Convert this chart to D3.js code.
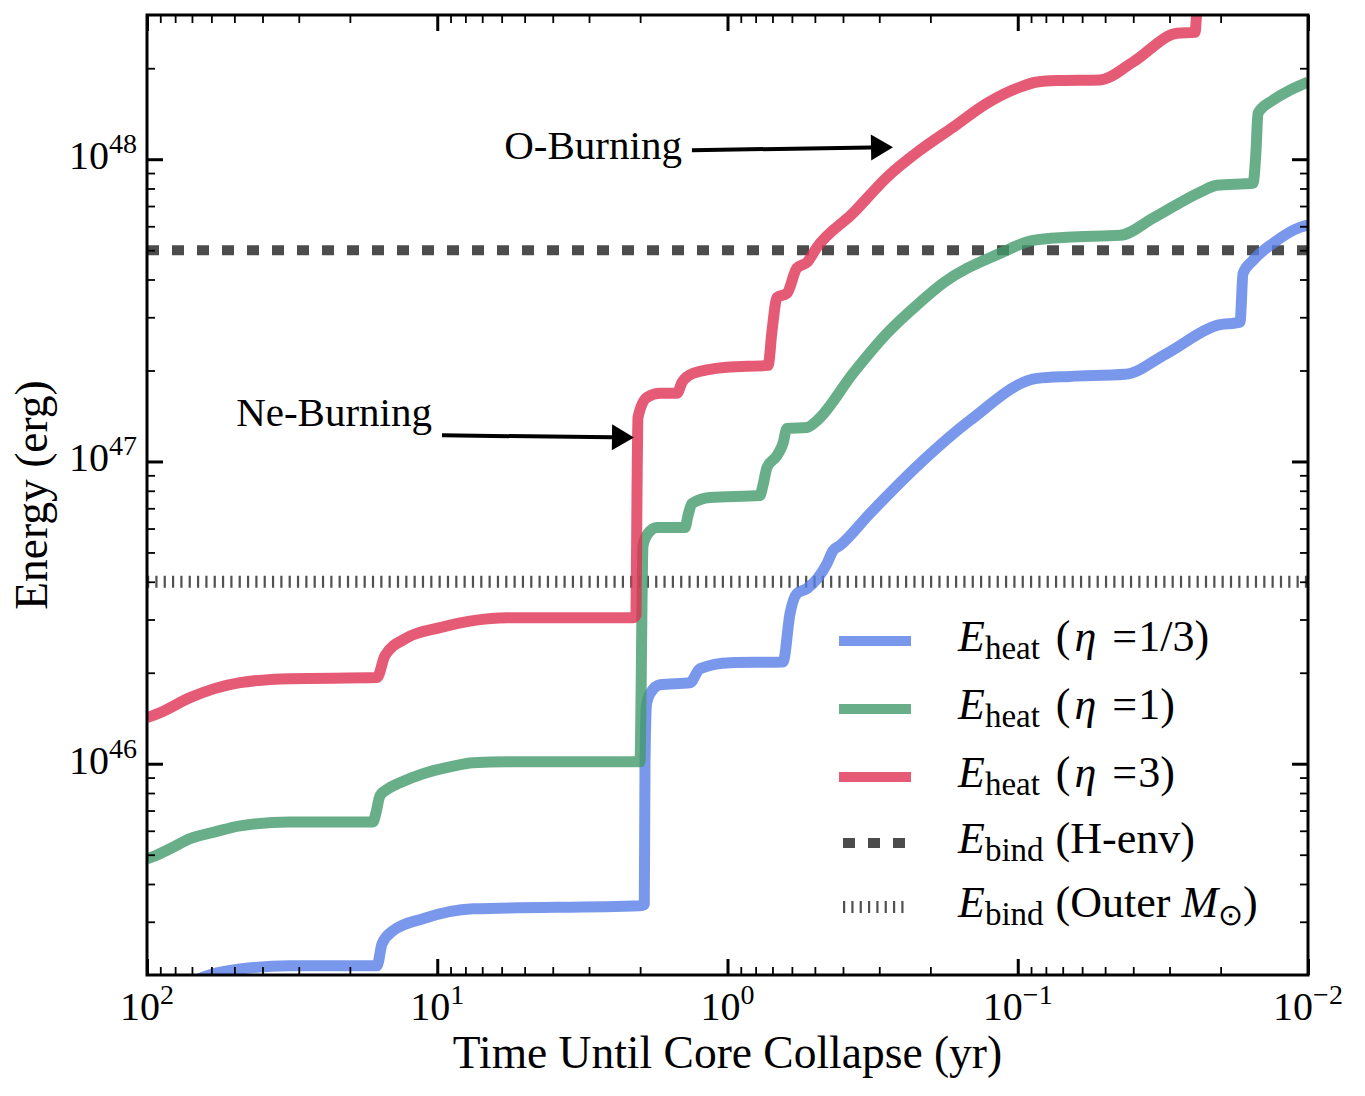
<!DOCTYPE html>
<html>
<head>
<meta charset="utf-8">
<script src="https://cdn.jsdelivr.net/npm/d3@7"></script>
<style>
  body { margin: 0; background: #fff; }
  svg { display: block; font-family: "Liberation Serif", "Times New Roman", serif; }
</style>
</head>
<body>
<div id="chart"></div>
<script>
// Time until core collapse (yr) and heating energy (erg)
const timeLow = [100, 83.3, 71.1, 59.2, 47.8, 32.2, 16.13, 15.5, 14.21, 11.2, 7.53, 2.002, 1.935, 1.924, 1.9,
  1.849, 1.708, 1.347, 1.243, 0.98, 0.644, 0.609, 0.576, 0.532, 0.454, 0.433, 0.41, 0.323, 0.2172, 0.1461,
  0.0858, 0.0661, 0.0427, 0.0306, 0.02059, 0.01715, 0.01674, 0.01547, 0.0132, 0.01066, 0.01];
const heatLow = [1.62e45, 1.74e45, 1.88e45, 2.017e45, 2.095e45, 2.144e45, 2.144e45, 2.535e45, 2.8e45, 3.07e45, 3.31e45, 3.39e45, 3.42e45, 1.0e46, 1.58e46,
  1.705e46, 1.826e46, 1.854e46, 2.064e46, 2.16e46, 2.17e46, 3.14e46, 3.66e46, 3.8e46, 4.6e46, 5.07e46, 5.27e46, 6.73e46, 9.85e46, 1.367e47,
  1.883e47, 1.912e47, 1.942e47, 2.28e47, 2.82e47, 2.89e47, 4.19e47, 4.63e47, 5.27e47, 5.95e47, 6.05e47];

const timeMid = [100, 93.8, 83.3, 71.1, 58.3, 47.8, 32.2, 16.65, 16.26, 15.75, 14.78, 13.44, 11.2, 9.04, 7.53, 5.75,
  2.002, 1.986, 1.97, 1.955, 1.879, 1.749, 1.401, 1.368, 1.326, 1.149, 0.773, 0.755, 0.731, 0.675, 0.644, 0.624,
  0.532, 0.491, 0.3694, 0.2821, 0.2172, 0.1809, 0.1151, 0.0886, 0.0677, 0.0444, 0.0342, 0.02355, 0.02059,
  0.01547, 0.0151, 0.01487, 0.0132, 0.01153, 0.01];
const heatMid = [4.85e45, 4.96e45, 5.23e45, 5.65e45, 5.95e45, 6.23e45, 6.42e45, 6.42e45, 6.88e45, 7.84e45, 8.26e45, 8.65e45, 9.27e45, 9.77e45, 1.008e46, 1.015e46,
  1.015e46, 1.617e46, 3.47e46, 5.27e46, 5.78e46, 6.05e46, 6.05e46, 6.63e46, 7.26e46, 7.6e46, 7.72e46, 8.33e46, 9.55e46, 1.047e47, 1.147e47, 1.286e47,
  1.296e47, 1.367e47, 1.956e47, 2.654e47, 3.36e47, 3.89e47, 4.88e47, 5.39e47, 5.52e47, 5.6e47, 6.38e47, 7.78e47, 8.2e47,
  8.33e47, 1.071e48, 1.42e48, 1.568e48, 1.692e48, 1.8e48];

const timeHigh = [100, 90.2, 71.1, 47.8, 32.2, 16.13, 15.14, 12.71, 9.78, 7.53, 5.75, 2.117, 2.067, 2.05, 2.034,
  1.894, 1.708, 1.493, 1.435, 1.315, 1.004, 0.725, 0.702, 0.675, 0.624, 0.577, 0.532, 0.492, 0.3694, 0.2821,
  0.2172, 0.1671, 0.1276, 0.0982, 0.0858, 0.0732, 0.0521, 0.0401, 0.02827, 0.02451, 0.02412, 0.0235];
const heatHigh = [1.42e46, 1.475e46, 1.654e46, 1.854e46, 1.912e46, 1.927e46, 2.28e46, 2.61e46, 2.82e46, 2.975e46, 3.04e46, 3.04e46, 3.1e46, 8.0e46, 1.399e47,
  1.629e47, 1.68e47, 1.68e47, 1.826e47, 1.956e47, 2.05e47, 2.08e47, 2.72e47, 3.49e47, 3.6e47, 4.36e47, 4.56e47, 5.11e47, 6.63e47, 8.72e47,
  1.071e48, 1.276e48, 1.532e48, 1.732e48, 1.8e48, 1.82e48, 1.83e48, 2.095e48, 2.61e48, 2.63e48, 3.2e48, 5e48];

const bindEnv = 5e47;      // E_bind (H-env)
const bindOuter = 4e46;    // E_bind (Outer M_sun)

const xTicks = [100, 10, 1, 0.1, 0.01];
const xTickExp = ["2", "1", "0", "\u22121", "\u22122"];
const yTicks = [1e46, 1e47, 1e48];
const yTickExp = ["46", "47", "48"];

const seriesNames = ["1/3", "1", "3"];
const seriesColors = ["#597ee6", "#429a6a", "#df3151"];

const width = 1365, height = 1096;
const L = 147, R = 1308, T = 15, B = 975;

const svg = d3.select("#chart").append("svg")
  .attr("width", width).attr("height", height);

const x = d3.scaleLog().domain([100, 0.01]).range([L, R]);
const y = d3.scaleLog().domain([2e45, 3e48]).range([B, T]);

svg.append("defs").append("clipPath").attr("id", "plot-clip")
  .append("rect").attr("x", L).attr("y", T).attr("width", R - L).attr("height", B - T);

const plot = svg.append("g").attr("clip-path", "url(#plot-clip)");

// binding energy lines
plot.append("line")
  .attr("x1", L).attr("x2", R).attr("y1", y(bindEnv)).attr("y2", y(bindEnv))
  .attr("stroke", "#333").attr("stroke-opacity", 0.88)
  .attr("stroke-width", 10).attr("stroke-dasharray", "12 13");
plot.append("line")
  .attr("x1", L).attr("x2", R).attr("y1", y(bindOuter)).attr("y2", y(bindOuter))
  .attr("stroke", "#333").attr("stroke-opacity", 0.85)
  .attr("stroke-width", 12).attr("stroke-dasharray", "2.2 6.13");

// heating curves
const line = d3.line().x(d => x(d[0])).y(d => y(d[1])).curve(d3.curveMonotoneX);
const series = [
  d3.zip(timeLow, heatLow),
  d3.zip(timeMid, heatMid),
  d3.zip(timeHigh, heatHigh)
];
series.forEach((s, i) => {
  plot.append("path")
    .datum(s)
    .attr("d", line)
    .attr("fill", "none")
    .attr("stroke", seriesColors[i])
    .attr("stroke-opacity", 0.8)
    .attr("stroke-width", 11)
    .attr("stroke-linejoin", "round");
});

// ticks on all four sides, pointing inward
function minors(lo, hi) {
  const out = [];
  for (let e = lo; e <= hi; e++) for (let m = 2; m <= 9; m++) out.push(m * Math.pow(10, e));
  return out;
}
const xMinor = minors(-2, 1).filter(v => v > 0.01 && v < 100);
const yMinor = minors(45, 48).filter(v => v > 2e45 && v < 3e48);

function tickLayer(axis, tx, ty, vals, size, w) {
  const g = svg.append("g").attr("transform", `translate(${tx},${ty})`)
    .call(axis.tickValues(vals).tickSize(size).tickFormat(""));
  g.select(".domain").remove();
  g.selectAll(".tick line").attr("stroke", "#000").attr("stroke-width", w);
}
tickLayer(d3.axisBottom(x), 0, B, xTicks, -16, 3);
tickLayer(d3.axisBottom(x), 0, B, xMinor, -8, 1.8);
tickLayer(d3.axisTop(x), 0, T, xTicks, -16, 3);
tickLayer(d3.axisTop(x), 0, T, xMinor, -8, 1.8);
tickLayer(d3.axisLeft(y), L, 0, yTicks, -16, 3);
tickLayer(d3.axisLeft(y), L, 0, yMinor, -8, 1.8);
tickLayer(d3.axisRight(y), R, 0, yTicks, -16, 3);
tickLayer(d3.axisRight(y), R, 0, yMinor, -8, 1.8);

svg.append("rect")
  .attr("x", L).attr("y", T).attr("width", R - L).attr("height", B - T)
  .attr("fill", "none").attr("stroke", "#000").attr("stroke-width", 3);

// tick labels
xTicks.forEach((v, i) => {
  const t = svg.append("text")
    .attr("x", x(v)).attr("y", 1020)
    .attr("text-anchor", "middle")
    .attr("font-size", 40);
  t.append("tspan").text("10");
  t.append("tspan").attr("font-size", 28).attr("dy", -16).text(xTickExp[i]);
});
yTicks.forEach((v, i) => {
  const t = svg.append("text")
    .attr("x", 137).attr("y", y(v) + 10)
    .attr("text-anchor", "end")
    .attr("font-size", 40);
  t.append("tspan").text("10");
  t.append("tspan").attr("font-size", 28).attr("dy", -16).text(yTickExp[i]);
});

// axis titles
svg.append("text")
  .attr("x", (L + R) / 2).attr("y", 1068)
  .attr("text-anchor", "middle").attr("font-size", 45.5)
  .text("Time Until Core Collapse (yr)");
svg.append("text")
  .attr("transform", `translate(47,${(T + B) / 2}) rotate(-90)`)
  .attr("text-anchor", "middle").attr("font-size", 45.5)
  .text("Energy (erg)");

// annotations with arrows
function arrow(t0, e0, t1, e1, label, dyText) {
  const x0 = x(t0), y0 = y(e0), x1 = x(t1), y1 = y(e1);
  const ang = Math.atan2(y1 - y0, x1 - x0);
  const hl = 22, hw = 13;
  const bx = x1 - hl * Math.cos(ang), by = y1 - hl * Math.sin(ang);
  svg.append("line")
    .attr("x1", x0).attr("y1", y0).attr("x2", bx).attr("y2", by)
    .attr("stroke", "#000").attr("stroke-width", 4);
  svg.append("path")
    .attr("d", `M${x1},${y1}L${bx - hw * Math.sin(ang)},${by + hw * Math.cos(ang)}L${bx + hw * Math.sin(ang)},${by - hw * Math.cos(ang)}Z`)
    .attr("fill", "#000");
  svg.append("text")
    .attr("x", x0 - 10).attr("y", y0 + dyText)
    .attr("text-anchor", "end").attr("font-size", 41)
    .text(label);
}
arrow(9.63, 1.22e47, 2.1, 1.2e47, "Ne-Burning", -9);
arrow(1.326, 1.071e48, 0.269, 1.096e48, "O-Burning", 9);

// legend
const legendRows = [641, 709, 777, 843, 907];
const legend = svg.append("g");
function legendLabel(ly, sub) {
  const t = legend.append("text").attr("x", 958).attr("y", ly + 10).attr("font-size", 44);
  t.append("tspan").attr("font-style", "italic").text("E");
  t.append("tspan").attr("font-size", 33).attr("dy", 8).text(sub);
  return t;
}
seriesNames.forEach((name, i) => {
  const ly = legendRows[i];
  legend.append("line")
    .attr("x1", 839).attr("x2", 911).attr("y1", ly).attr("y2", ly)
    .attr("stroke", seriesColors[i]).attr("stroke-opacity", 0.8).attr("stroke-width", 10);
  const t = legendLabel(ly, "heat");
  t.append("tspan").attr("dy", -8).attr("dx", 16).text("(");
  t.append("tspan").attr("font-style", "italic").attr("dx", 4).text("\u03b7");
  t.append("tspan").attr("dx", 16).text("=");
  t.append("tspan").attr("dx", 1).text(name + ")");
});
legend.append("line")
  .attr("x1", 843).attr("x2", 907).attr("y1", legendRows[3]).attr("y2", legendRows[3])
  .attr("stroke", "#333").attr("stroke-opacity", 0.88).attr("stroke-width", 10).attr("stroke-dasharray", "12 13");
legend.append("line")
  .attr("x1", 843).attr("x2", 907).attr("y1", legendRows[4]).attr("y2", legendRows[4])
  .attr("stroke", "#333").attr("stroke-opacity", 0.85).attr("stroke-width", 12).attr("stroke-dasharray", "2.2 6.13");
const t1 = legendLabel(legendRows[3], "bind");
t1.append("tspan").attr("dy", -8).attr("dx", 12).text("(H-env)");
const t2 = legendLabel(legendRows[4], "bind");
t2.append("tspan").attr("dy", -8).attr("dx", 12).text("(Outer ");
t2.append("tspan").attr("font-style", "italic").text("M");
t2.append("tspan").attr("font-size", 30).attr("dy", 8).text("\u2299");
t2.append("tspan").attr("dy", -8).text(")");
</script>
</body>
</html>
